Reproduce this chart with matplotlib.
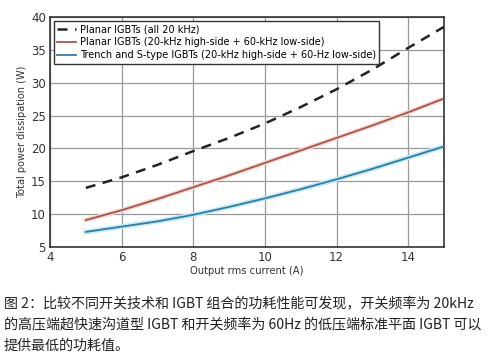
import numpy as np
import matplotlib
matplotlib.use("Agg")
import matplotlib.pyplot as plt

# data
current = [5, 6, 7, 8, 9, 10, 11, 12, 13, 14, 15]
planar_all = [14.0, 15.6, 17.5, 19.6, 21.6, 23.8, 26.3, 29.0, 32.0, 35.3, 38.5]
planar_mixed = [9.1, 10.6, 12.3, 14.1, 15.9, 17.8, 19.7, 21.6, 23.5, 25.5, 27.6]
trench_mixed = [7.3, 8.1, 8.9, 9.9, 11.1, 12.4, 13.8, 15.3, 16.9, 18.6, 20.3]

labels = ['Planar IGBTs (all 20 kHz)',
          'Planar IGBTs (20-kHz high-side + 60-kHz low-side)',
          'Trench and S-type IGBTs (20-kHz high-side + 60-Hz low-side)']
xticks = [4, 6, 8, 10, 12, 14]
yticks = [5, 10, 15, 20, 25, 30, 35, 40]

caption = ("图 2：比较不同开关技术和 IGBT 组合的功耗性能可发现，开关频率为 20kHz\n"
           "的高压端超快速沟道型 IGBT 和开关频率为 60Hz 的低压端标准平面 IGBT 可以\n"
           "提供最低的功耗值。")

fig = plt.figure(figsize=(4.91, 3.58), dpi=100)
ax = fig.add_axes([50 / 491, 0.31, 394 / 491, 0.6425])

# soft glow under the coloured lines
ax.plot(current, planar_mixed, color='#f6d6ce', lw=3.2, zorder=2)
ax.plot(current, trench_mixed, color='#c4e8f6', lw=3.5, zorder=2)

ax.plot(current, planar_all, color='#222222', lw=1.8, ls=(0, (4, 3)), label=labels[0], zorder=3)
ax.plot(current, planar_mixed, color='#a8564c', lw=1.3, label=labels[1], zorder=3)
ax.plot(current, trench_mixed, color='#2c7ea6', lw=1.3, label=labels[2], zorder=3)

ax.set_xlim(4, 15)
ax.set_ylim(5, 40)
ax.set_xticks(xticks)
ax.set_yticks(yticks)
ax.grid(True, color='#999999', lw=0.9)
ax.tick_params(length=0, labelsize=8.5, colors='#333333', pad=3)
for s in ax.spines.values():
    s.set_color('#333333')
    s.set_linewidth(1.2)

ax.set_xlabel('Output rms current (A)', fontsize=7.2, color='#333333', labelpad=1)
ax.set_ylabel('Total power dissipation (W)', fontsize=7, color='#333333', labelpad=3)

leg = ax.legend(loc='upper left', fontsize=7, fancybox=False, framealpha=1,
                edgecolor='#333333', handlelength=1.9, borderpad=0.35,
                labelspacing=0.3, borderaxespad=0.4, handletextpad=0.4)
leg.get_frame().set_linewidth(1.0)

fig.text(0.008, 0.17, caption, fontsize=10.1, va='top', ha='left', linespacing=1.6,
         family=['Noto Sans CJK SC', 'DejaVu Sans'], color='#222222')

fig.savefig('out.png', dpi=100)
